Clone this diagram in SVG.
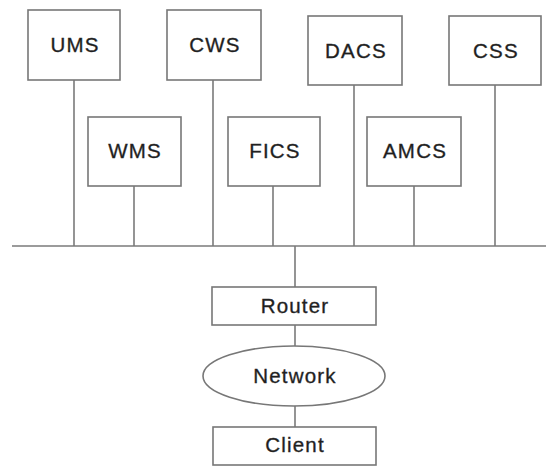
<svg xmlns="http://www.w3.org/2000/svg" width="546" height="466" viewBox="0 0 546 466">
  <style>
    .box { fill: #ffffff; stroke: #777777; stroke-width: 1.6; }
    .wire { fill: none; stroke: #7a7a7a; stroke-width: 1.6; }
    .label { font-family: "Liberation Sans", Arial, sans-serif; font-size: 20.5px; letter-spacing: 1.2px; fill: #1e1e1e; stroke: #2a2a2a; stroke-width: 0.35; text-anchor: middle; }
  </style>
  <rect width="546" height="466" fill="#ffffff"/>

  <!-- bus and drops -->
  <g id="connectors">
    <line class="wire" x1="12" y1="246" x2="546" y2="246"/>
    <line class="wire" x1="74" y1="80" x2="74" y2="246"/>
    <line class="wire" x1="213" y1="80" x2="213" y2="246"/>
    <line class="wire" x1="354" y1="85" x2="354" y2="246"/>
    <line class="wire" x1="495" y1="85" x2="495" y2="246"/>
    <line class="wire" x1="134" y1="186" x2="134" y2="246"/>
    <line class="wire" x1="273" y1="186" x2="273" y2="246"/>
    <line class="wire" x1="414" y1="186" x2="414" y2="246"/>
    <line class="wire" x1="295" y1="246" x2="295" y2="287"/>
    <line class="wire" x1="295" y1="325" x2="295" y2="346"/>
    <line class="wire" x1="295" y1="406" x2="295" y2="427"/>
  </g>

  <g id="ums">
    <rect class="box" x="28" y="10" width="92" height="70"/>
    <text class="label" x="75" y="52">UMS</text>
  </g>
  <g id="cws">
    <rect class="box" x="167" y="10" width="94" height="70"/>
    <text class="label" x="215" y="52">CWS</text>
  </g>
  <g id="dacs">
    <rect class="box" x="308" y="16" width="94" height="69"/>
    <text class="label" x="356" y="58">DACS</text>
  </g>
  <g id="css">
    <rect class="box" x="449" y="16" width="92" height="69"/>
    <text class="label" x="496" y="58">CSS</text>
  </g>
  <g id="wms">
    <rect class="box" x="88" y="117" width="93" height="69"/>
    <text class="label" x="135" y="158">WMS</text>
  </g>
  <g id="fics">
    <rect class="box" x="228" y="117" width="92" height="69"/>
    <text class="label" x="275" y="158">FICS</text>
  </g>
  <g id="amcs">
    <rect class="box" x="367" y="117" width="94" height="69"/>
    <text class="label" x="415" y="158">AMCS</text>
  </g>
  <g id="router">
    <rect class="box" x="212" y="287" width="164" height="38"/>
    <text class="label" x="295" y="313">Router</text>
  </g>
  <g id="network">
    <ellipse class="box" cx="294" cy="376" rx="91" ry="30"/>
    <text class="label" x="295" y="383">Network</text>
  </g>
  <g id="client">
    <rect class="box" x="213" y="427" width="163" height="38"/>
    <text class="label" x="295" y="452">Client</text>
  </g>
</svg>
